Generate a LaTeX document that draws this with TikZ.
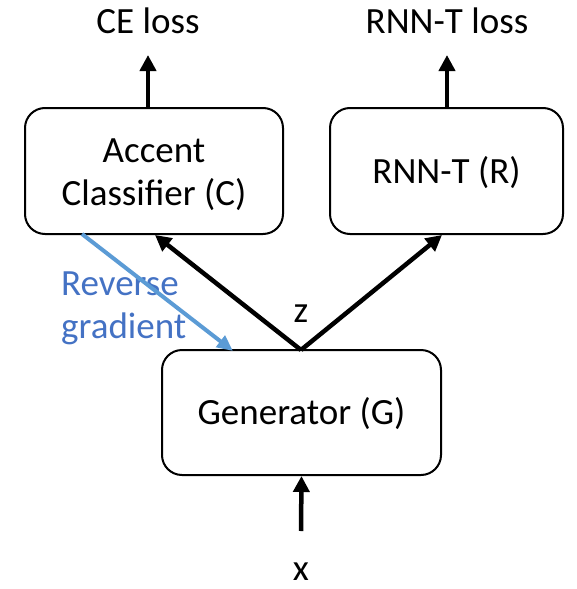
\documentclass[tikz,border=0pt]{standalone}
\usepackage{fontspec}
\setmainfont{Carlito}
\usetikzlibrary{arrows.meta}
\definecolor{revblue}{HTML}{5B9BD5}
\definecolor{revtext}{HTML}{4472C4}
\begin{document}
\begin{tikzpicture}[x=1pt,y=-1pt,
  box/.style={draw,line width=2pt,rounded corners=20pt,inner sep=0pt},
  lbl/.style={font=\fontsize{37}{43}\selectfont,inner sep=0pt,anchor=base},
  blk/.style={line width=4.5pt,-{Triangle[length=16pt,width=16pt]}},
  blu/.style={line width=4pt,draw=revblue,-{Triangle[length=16pt,width=14pt]}}]
\useasboundingbox (0,0) rectangle (577,589);
\node[box,minimum width=258pt,minimum height=126pt] (C) at (154,171) {};
\node[box,minimum width=233pt,minimum height=126pt] (R) at (446.5,171) {};
\node[box,minimum width=279pt,minimum height=125pt] (G) at (301.5,412.5) {};
\node[lbl] (ca) at (154,162) {Accent};
\node[lbl] (cb) at (154,205) {Classifier (C)};
\node[lbl] (rr) at (446.5,183) {RNN-T (R)};
\node[lbl] (gg) at (301.5,424) {Generator (G)};
\node[lbl] (ce) at (148,34) {CE loss};
\node[lbl] (rl) at (447,34) {RNN-T loss};
\node[lbl] (x) at (301,580) {x};
\node[lbl] (z) at (301,322) {z};
\node[lbl,text=revtext,anchor=base west] (rg1) at (61,295) {Reverse};
\node[lbl,text=revtext,anchor=base west] (rg2) at (61,338) {gradient};
\coordinate (ceb) at (148,108);
\coordinate (cet) at (148,55);
\coordinate (rlb) at (447,108);
\coordinate (rlt) at (447,55);
\coordinate (xb) at (301,531);
\coordinate (gt) at (301,350);
\coordinate (ct) at (155,235);
\coordinate (rt) at (442,235);
\coordinate (bs) at (82,234);
\coordinate (be) at (233,351);
\draw[blk] (ceb) -- (cet);
\draw[blk] (rlb) -- (rlt);
\draw[blk] (xb) -- (G.south);
\draw[blk] (gt) -- (ct);
\draw[blk] (gt) -- (rt);
\draw[blu] (bs) -- (be);
\end{tikzpicture}
\end{document}
